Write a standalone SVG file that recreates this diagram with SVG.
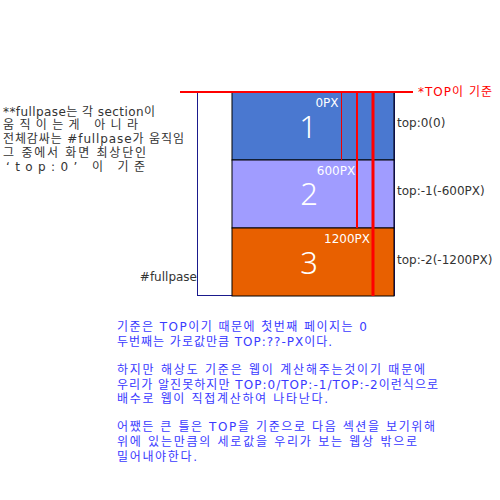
<svg xmlns="http://www.w3.org/2000/svg" width="500" height="500" viewBox="0 0 500 500">
<style>
text{font-family:"DejaVu Sans","Noto Sans CJK KR",sans-serif;font-size:12px}
.g{fill:#333}
.w{fill:#fff}
.big{font-family:"Noto Sans","Noto Sans CJK KR",sans-serif;font-size:31px;fill:#fff;text-anchor:middle;font-weight:300}
.b{fill:#3a3aff}
.r{fill:#f00}
</style>
<rect width="500" height="500" fill="#fff"/>
<g id="wrapper">
<rect x="197.5" y="92.5" width="197" height="203" fill="none" stroke="#1a1a8c" stroke-width="1"/>
<text class="g" x="197" y="281" text-anchor="end">#fullpase</text>
</g>
<g id="section1">
<rect x="232" y="92" width="162" height="68" fill="#4a78d0" stroke="#000" stroke-width="1"/>
<text class="w" x="327" y="107" text-anchor="middle">0PX</text>
<text class="big" x="308" y="138">1</text>
</g>
<g id="section2">
<rect x="232" y="160" width="162" height="68" fill="#a09cff" stroke="#000" stroke-width="1"/>
<text class="w" x="336" y="175" text-anchor="middle">600PX</text>
<text class="big" x="309" y="205">2</text>
</g>
<g id="section3">
<rect x="232" y="228" width="162" height="68" fill="#e86000" stroke="#000" stroke-width="1"/>
<text class="w" x="347" y="243" text-anchor="middle">1200PX</text>
<text class="big" x="309" y="274">3</text>
</g>
<g id="connectors">
<line x1="341.5" y1="92" x2="341.5" y2="160" stroke="#e00" stroke-width="1"/>
<line x1="357" y1="92" x2="357" y2="228" stroke="#f00" stroke-width="2"/>
<line x1="373" y1="92" x2="373" y2="296" stroke="#f00" stroke-width="3"/>
<line x1="180" y1="92" x2="413" y2="92" stroke="#f00" stroke-width="2"/>
</g>
<g id="labels">
<text class="r" x="418" y="96" textLength="74" lengthAdjust="spacing">*TOP이 기준</text>
<text class="g" x="397" y="127">top:0(0)</text>
<text class="g" x="397" y="195">top:-1(-600PX)</text>
<text class="g" x="397" y="264">top:-2(-1200PX)</text>
</g>
<g id="note-left">
<text class="g" x="3" y="116" textLength="152" lengthAdjust="spacing">**fullpase는 각 section이</text>
<text class="g" x="3" y="129" textLength="135" lengthAdjust="spacing">움직이는게 아니라</text>
<text class="g" x="3" y="143" textLength="181" lengthAdjust="spacing">전체감싸는 #fullpase가 움직임</text>
<text class="g" x="3" y="157" textLength="143" lengthAdjust="spacing">그 중에서 화면 최상단인</text>
<text class="g" x="6" y="171" textLength="139" lengthAdjust="spacing">‘top:0’  이 기준</text>
</g>
<g id="note-bottom">
<text class="b" x="117" y="331" textLength="250" lengthAdjust="spacing">기준은 TOP이기 때문에 첫번째 페이지는 0</text>
<text class="b" x="117" y="346" textLength="215" lengthAdjust="spacing">두번째는 가로값만큼 TOP:??-PX이다.</text>
<text class="b" x="117" y="374" textLength="308" lengthAdjust="spacing">하지만 해상도 기준은 웹이 계산해주는것이기 때문에</text>
<text class="b" x="117" y="389" textLength="321" lengthAdjust="spacing">우리가 알진못하지만 TOP:0/TOP:-1/TOP:-2이런식으로</text>
<text class="b" x="117" y="403" textLength="211" lengthAdjust="spacing">배수로 웹이 직접계산하여 나타난다.</text>
<text class="b" x="117" y="431" textLength="318" lengthAdjust="spacing">어쨌든 큰 틀은 TOP을 기준으로 다음 섹션을 보기위해</text>
<text class="b" x="117" y="446" textLength="300" lengthAdjust="spacing">위에 있는만큼의 세로값을 우리가 보는 웹상 밖으로</text>
<text class="b" x="117" y="461" textLength="80" lengthAdjust="spacing">밀어내야한다.</text>
</g>
</svg>
